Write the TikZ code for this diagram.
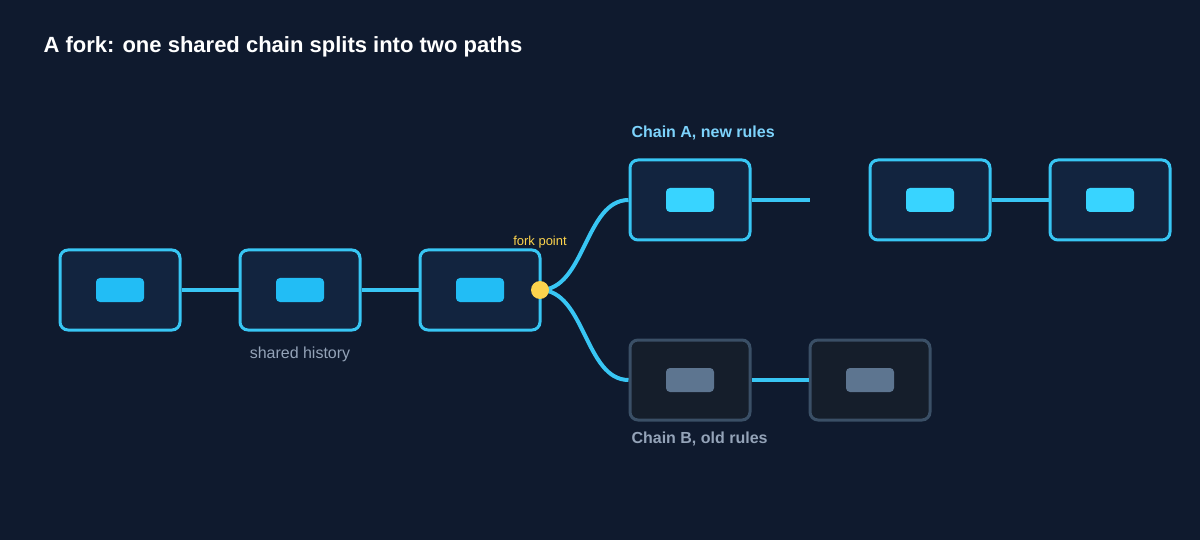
\documentclass[tikz,border=0pt]{standalone}
\usepackage{fontspec}
\setmainfont{Liberation Sans}
\begin{document}
\definecolor{bg}{HTML}{0F1A2E}
\definecolor{boxf}{HTML}{12243F}
\definecolor{edge}{HTML}{38C6F4}
\definecolor{inA}{HTML}{38D4FF}
\definecolor{inS}{HTML}{22BDF5}
\definecolor{boxB}{HTML}{151E2B}
\definecolor{edgeB}{HTML}{3A4F66}
\definecolor{inB}{HTML}{5D7590}
\definecolor{yel}{HTML}{FCD34D}
\definecolor{muted}{HTML}{94A3B8}
\definecolor{ltblue}{HTML}{7DD3FC}
\begin{tikzpicture}[x=1pt,y=-1pt,
  blk/.style={draw=edge,fill=boxf,line width=3pt,rounded corners=8pt,minimum width=120pt,minimum height=80pt,inner sep=0pt},
  blkB/.style={blk,draw=edgeB,fill=boxB},
  chip/.style={fill=#1,rounded corners=4pt,minimum width=48pt,minimum height=24pt,inner sep=0pt},
  link/.style={edge,line width=4pt},
  linkB/.style={edge,line width=4pt}]
\fill[bg] (0,0) rectangle (1200,540);
\useasboundingbox (0,0) rectangle (1200,540);
\node[anchor=west,text=white,font=\bfseries\fontsize{22}{26}\selectfont] (title) at (40,47) {A fork: one shared chain splits into two paths};
% links first
\coordinate (fp) at (540,290);
\coordinate (dang) at (810,200);
\node[blk] (s1) at (120,290) {};
\node[blk] (s2) at (300,290) {};
\node[blk] (s3) at (480,290) {};
\node[blk] (a1) at (690,200) {};
\node[blk] (a2) at (930,200) {};
\node[blk] (a3) at (1110,200) {};
\node[blkB] (b1) at (690,380) {};
\node[blkB] (b2) at (870,380) {};
\begin{scope}[on background layer/.style={}]
\end{scope}
\draw[link] (s1.east) -- (s2.west);
\draw[link] (s2.east) -- (s3.west);
\draw[link] (a1.east) -- (dang);
\draw[link] (a2.east) -- (a3.west);
\draw[linkB] (b1.east) -- (b2.west);
\draw[link] (fp) .. controls (585,290) and (585,200) .. (a1.west);
\draw[link] (fp) .. controls (585,290) and (585,380) .. (b1.west);
\foreach \n in {s1,s2,s3}{\node[chip=inS] at (\n) {};}
\foreach \n in {a1,a2,a3}{\node[chip=inA] at (\n) {};}
\foreach \n in {b1,b2}{\node[chip=inB] at (\n) {};}
\fill[yel] (fp) circle (9pt);
\node[text=yel,font=\fontsize{13}{15}\selectfont] (fpl) at (540,242) {fork point};
\node[anchor=west,text=ltblue,font=\bfseries\fontsize{16}{19}\selectfont] (la) at (628,133) {Chain A, new rules};
\node[anchor=west,text=muted,font=\bfseries\fontsize{16}{19}\selectfont] (lb) at (628,439) {Chain B, old rules};
\node[text=muted,font=\fontsize{16}{19}\selectfont] (sh) at (300,354) {shared history};
\end{tikzpicture}
\end{document}
